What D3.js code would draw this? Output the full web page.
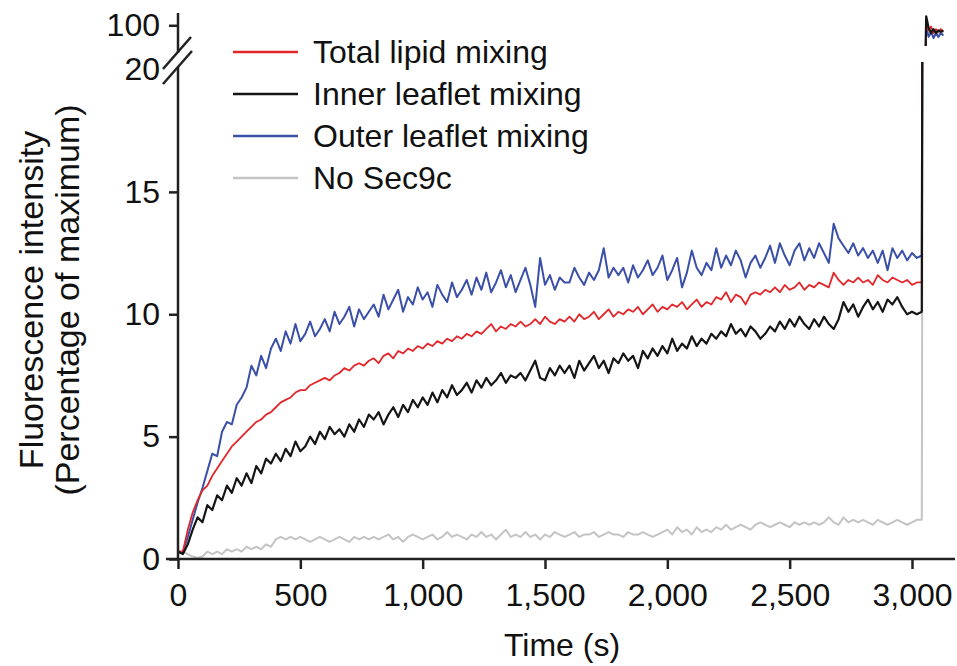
<!DOCTYPE html>
<html>
<head>
<meta charset="utf-8">
<script src="https://cdn.jsdelivr.net/npm/d3@7"></script>
<style>
  body { margin: 0; background: #fff; }
  text { font-family: "Liberation Sans", Arial, Helvetica, sans-serif; fill: #111; }
</style>
</head>
<body>
<svg id="chart"></svg>
<script>
// sample times (s), one reading every 20 s before detergent
const times = d3.range(0, 3041, 20);

const total = [
  0.3, 0.3, 1.2, 1.9, 2.4, 2.8, 3.0, 3.4, 3.7, 4.0,
  4.3, 4.6, 4.8, 5.0, 5.2, 5.4, 5.6, 5.7, 5.9, 6.0,
  6.2, 6.4, 6.5, 6.6, 6.8, 6.9, 6.9, 7.1, 7.2, 7.3,
  7.4, 7.3, 7.5, 7.6, 7.8, 7.7, 7.9, 8.0, 7.9, 8.1,
  8.2, 8.0, 8.3, 8.4, 8.2, 8.5, 8.4, 8.6, 8.5, 8.7,
  8.6, 8.8, 8.7, 8.9, 8.8, 9.0, 8.9, 9.1, 9.0, 9.2,
  9.1, 9.3, 9.2, 9.4, 9.6, 9.3, 9.5, 9.4, 9.6, 9.5,
  9.7, 9.5, 9.6, 9.8, 9.6, 9.9, 9.7, 9.6, 9.8, 9.7,
  9.9, 9.7, 10.0, 9.8, 9.9, 10.1, 9.8, 10.0, 10.2, 9.9,
  10.1, 10.0, 10.2, 10.1, 10.3, 10.0, 10.2, 10.4, 10.1, 10.3,
  10.2, 10.4, 10.3, 10.5, 10.2, 10.4, 10.6, 10.3, 10.5, 10.4,
  10.7, 10.6, 10.9, 10.5, 10.8, 10.7, 10.4, 10.8, 10.9, 10.8,
  11.0, 10.9, 11.1, 10.9, 11.2, 11.0, 11.1, 11.3, 11.0, 11.2,
  11.1, 11.3, 11.2, 11.1, 11.7, 11.4, 11.2, 11.4, 11.3, 11.5,
  11.3, 11.4, 11.2, 11.6, 11.4, 11.3, 11.5, 11.4, 11.3, 11.4,
  11.2, 11.3, 11.3
];

const inner = [
  0.3, 0.2, 0.6, 1.2, 1.7, 1.5, 2.2, 2.0, 2.6, 2.4,
  3.0, 2.7, 3.3, 3.0, 3.5, 3.1, 3.8, 3.5, 4.1, 3.9,
  4.3, 4.0, 4.5, 4.2, 4.8, 4.4, 4.6, 5.0, 4.7, 5.2,
  4.9, 5.4, 5.1, 5.3, 5.0, 5.5, 5.2, 5.7, 5.4, 5.9,
  5.7, 6.0, 5.5, 5.9, 6.2, 5.8, 6.3, 6.0, 6.5, 6.2,
  6.6, 6.3, 6.8, 6.4, 6.9, 6.6, 7.1, 6.7, 6.9, 7.2,
  6.8, 7.3, 7.0, 7.4, 7.1, 7.3, 7.6, 7.2, 7.5, 7.4,
  7.6, 7.3, 7.7, 8.1, 7.4, 7.3, 7.8, 7.5, 7.9, 7.6,
  7.9, 7.4, 8.1, 7.7, 8.0, 8.3, 7.8, 8.1, 7.6, 8.2,
  8.0, 8.4, 8.1, 8.3, 7.8, 8.5, 8.2, 8.6, 8.3, 8.7,
  8.4, 9.0, 8.5, 8.8, 8.6, 9.1, 8.7, 9.0, 8.8, 9.2,
  9.0, 9.3, 9.1, 9.6, 9.2, 9.4, 9.1, 9.5, 9.3, 9.0,
  9.2, 9.5, 9.3, 9.7, 9.4, 9.8, 9.5, 9.9, 9.6, 9.4,
  9.8, 9.5, 9.9, 9.6, 9.4, 9.8, 10.5, 10.1, 10.4, 9.9,
  10.3, 10.6, 10.2, 10.5, 10.1, 10.6, 10.4, 10.7, 10.3, 10.0,
  10.1, 10.0, 10.1
];

const outer = [
  0.3, 0.3, 0.9, 1.6, 2.3, 2.9, 3.6, 4.3, 4.2, 5.2,
  5.6, 5.5, 6.3, 6.6, 7.0, 7.9, 7.5, 8.3, 7.8, 8.6,
  9.0, 8.5, 9.3, 8.8, 9.6, 8.9, 9.2, 9.7, 9.1, 9.4,
  9.8, 9.3, 10.1, 9.6, 9.9, 10.3, 9.5, 10.2, 9.8, 10.1,
  10.4, 9.9, 10.8, 10.2, 10.6, 11.0, 10.1, 10.7, 10.4, 11.1,
  10.6, 10.9, 10.3, 11.2, 10.8, 10.5, 11.3, 10.7, 11.0, 11.4,
  10.8, 11.5, 11.0, 11.7, 10.9, 11.3, 11.8, 11.1, 11.6, 10.9,
  11.4, 11.9, 11.2, 10.3, 12.3, 11.2, 11.6, 11.0, 11.5, 11.3,
  11.3, 11.9, 11.5, 11.2, 11.7, 11.4, 11.8, 12.7, 11.5, 11.9,
  11.6, 11.9, 11.3, 12.0, 11.5, 11.8, 12.2, 11.6, 11.9, 12.4,
  11.4, 11.8, 12.3, 11.1, 11.7, 12.6, 11.9, 11.6, 12.1, 11.8,
  12.7, 11.9, 12.4, 12.0, 12.6, 12.2, 11.5, 12.1, 12.4, 11.9,
  12.3, 12.8, 12.1, 12.9, 12.4, 12.0, 12.6, 12.9, 12.2, 12.7,
  12.3, 12.9, 12.5, 12.1, 13.7, 13.1, 12.8, 12.5, 12.9, 12.4,
  12.7, 12.3, 12.6, 12.1, 12.6, 11.8, 12.7, 12.3, 12.6, 12.2,
  12.5, 12.3, 12.4
];

const noSec9c = [
  0.3, 0.3, 0.2, 0.1, 0.05, 0.1, 0.3, 0.2, 0.3, 0.2,
  0.4, 0.3, 0.4, 0.3, 0.5, 0.4, 0.5, 0.4, 0.6, 0.5,
  0.8, 0.9, 0.8, 0.9, 0.8, 0.9, 0.8, 0.7, 0.8, 0.9,
  0.8, 0.7, 0.8, 0.9, 0.8, 0.7, 0.9, 0.8, 0.9, 0.8,
  0.9, 0.8, 0.9, 1.0, 0.8, 0.9, 0.7, 0.9, 1.0, 0.9,
  0.8, 0.9, 1.0, 0.8, 0.9, 1.1, 0.9, 1.0, 0.9, 0.8,
  1.0, 0.9, 1.1, 0.9, 1.0, 0.8, 1.0, 1.2, 0.9, 1.0,
  0.9, 1.1, 0.9, 1.0, 0.8, 1.0, 0.9, 1.1, 1.0, 0.9,
  1.0, 1.1, 0.9, 1.0, 1.0, 1.1, 0.9, 1.0, 1.1, 1.0,
  1.0, 0.9, 1.1, 1.0, 1.0, 1.1, 1.0, 0.9, 1.0, 1.1,
  1.2, 1.0, 1.3, 1.1, 1.2, 1.0, 1.3, 1.1, 1.2, 1.1,
  1.3, 1.2, 1.4, 1.2, 1.3, 1.4, 1.3, 1.2, 1.4, 1.5,
  1.4, 1.3, 1.4, 1.5, 1.4, 1.3, 1.5, 1.4, 1.5, 1.4,
  1.5, 1.4, 1.5, 1.7, 1.5, 1.4, 1.7, 1.5, 1.6, 1.5,
  1.6, 1.5, 1.4, 1.6, 1.5, 1.4, 1.5, 1.6, 1.5, 1.4,
  1.5, 1.6, 1.6
];

// readings after detergent addition (upper, broken part of the axis)
const afterTimes = [3058, 3068, 3078, 3088, 3098, 3108, 3118, 3128];
const totalAfter = [100, 98, 99.5, 97, 98.5, 97.5, 98.5, 97.5];
const innerAfter = [103.5, 99, 97, 98.5, 97, 98, 97.5, 98];
const outerAfter = [99, 95.5, 97.5, 95, 97, 95.5, 97, 96];
const noSec9cAfter = [98, 97, 98, 97, 97.5, 97, 97.5, 97];

const seriesNames = ["Total lipid mixing", "Inner leaflet mixing", "Outer leaflet mixing", "No Sec9c"];
const seriesColors = ["#e3262a", "#151515", "#3a50a8", "#c4c4c4"];
const xTicks = [0, 500, 1000, 1500, 2000, 2500, 3000];
const yTicksLow = [0, 5, 10, 15];

const width = 957, height = 666;
const svg = d3.select("#chart").attr("width", width).attr("height", height);

const x = d3.scaleLinear().domain([0, 3000]).range([178, 912]);
const yLow = d3.scaleLinear().domain([0, 20]).range([559, 69.5]);
const yTop = d3.scaleLinear().domain([90, 104]).range([51, 15]);

const series = [
  { vals: noSec9c, after: noSec9cAfter, color: seriesColors[3], w: 2 },
  { vals: outer, after: outerAfter, color: seriesColors[2], w: 2 },
  { vals: total, after: totalAfter, color: seriesColors[0], w: 1.8 },
  { vals: inner, after: innerAfter, color: seriesColors[1], w: 2.2 }
];
series.forEach(s => {
  s.pts = times.map((t, i) => [t, s.vals[i]])
    .concat(afterTimes.map((t, i) => [t, s.after[i]]));
});

const defs = svg.append("defs");
defs.append("clipPath").attr("id", "clipLow")
  .append("rect").attr("x", 178).attr("y", 62).attr("width", 780).attr("height", 502);
defs.append("clipPath").attr("id", "clipTop")
  .append("rect").attr("x", 178).attr("y", 8).attr("width", 780).attr("height", 38);

const lineLow = d3.line().x(d => x(d[0])).y(d => yLow(d[1]));
const lineTop = d3.line().x(d => x(d[0])).y(d => yTop(d[1]));

svg.append("g").attr("clip-path", "url(#clipLow)")
  .selectAll("path").data(series).join("path")
  .attr("d", d => lineLow(d.pts))
  .attr("fill", "none").attr("stroke", d => d.color)
  .attr("stroke-width", d => d.w).attr("stroke-linejoin", "round");

svg.append("g").attr("clip-path", "url(#clipTop)")
  .selectAll("path").data(series).join("path")
  .attr("d", d => lineTop(d.pts))
  .attr("fill", "none").attr("stroke", d => d.color)
  .attr("stroke-width", d => d.w).attr("stroke-linejoin", "round");

// axes
const axisColor = "#222";
const fontSize = "32px";

const xAxis = svg.append("g").attr("transform", `translate(0,${yLow(0)})`)
  .call(d3.axisBottom(x).tickValues(xTicks).tickSize(10).tickPadding(14).tickFormat(d3.format(",")));
xAxis.select(".domain").remove();
xAxis.selectAll("line").attr("stroke", axisColor).attr("stroke-width", 2.5);
xAxis.selectAll("text").style("font-size", fontSize).attr("fill", "#111");
svg.append("line").attr("x1", 166).attr("x2", 955)
  .attr("y1", yLow(0)).attr("y2", yLow(0))
  .attr("stroke", axisColor).attr("stroke-width", 2.5);

const yAxis = svg.append("g").attr("transform", `translate(${x(0)},0)`)
  .call(d3.axisLeft(yLow).tickValues(yTicksLow).tickSize(9).tickPadding(9));
yAxis.select(".domain").remove();
yAxis.selectAll("line").attr("stroke", axisColor).attr("stroke-width", 2.5);
yAxis.selectAll("text").style("font-size", fontSize).attr("fill", "#111");

const y20 = svg.append("g").attr("transform", `translate(${x(0)},0)`)
  .call(d3.axisLeft(yLow).tickValues([20]).tickSize(0).tickPadding(18));
y20.select(".domain").remove();
y20.selectAll("text").style("font-size", fontSize).attr("fill", "#111");

const yAxisTop = svg.append("g").attr("transform", `translate(${x(0)},0)`)
  .call(d3.axisLeft(yTop).tickValues([100]).tickSize(9).tickPadding(9));
yAxisTop.select(".domain").remove();
yAxisTop.selectAll("line").attr("stroke", axisColor).attr("stroke-width", 2.5);
yAxisTop.selectAll("text").style("font-size", fontSize).attr("fill", "#111");

// broken y axis line with break marks
svg.append("line").attr("x1", x(0)).attr("x2", x(0)).attr("y1", 13).attr("y2", 53)
  .attr("stroke", axisColor).attr("stroke-width", 2.5);
svg.append("line").attr("x1", x(0)).attr("x2", x(0)).attr("y1", 67).attr("y2", yLow(0))
  .attr("stroke", axisColor).attr("stroke-width", 2.5);
[[191, 37, 163, 69], [192, 51, 163, 84]].forEach(b => {
  svg.append("line").attr("x1", b[0]).attr("y1", b[1]).attr("x2", b[2]).attr("y2", b[3])
    .attr("stroke", axisColor).attr("stroke-width", 2.5);
});

// axis titles
svg.append("text").attr("x", 562).attr("y", 656).attr("text-anchor", "middle")
  .style("font-size", fontSize).text("Time (s)");
svg.append("text").attr("transform", "translate(43,300) rotate(-90)").attr("text-anchor", "middle")
  .style("font-size", "34px").text("Fluorescence intensity");
svg.append("text").attr("transform", "translate(79,300) rotate(-90)").attr("text-anchor", "middle")
  .style("font-size", "34px").text("(Percentage of maximum)");

// legend
const legend = svg.append("g").attr("transform", "translate(233,52)");
const rows = legend.selectAll("g").data(seriesNames).join("g")
  .attr("transform", (d, i) => `translate(0,${i * 42})`);
rows.append("line").attr("x1", 0).attr("x2", 65).attr("y1", 0).attr("y2", 0)
  .attr("stroke", (d, i) => seriesColors[i]).attr("stroke-width", 2.5);
rows.append("text").attr("x", 80).attr("y", 11).style("font-size", fontSize).text(d => d);
</script>
</body>
</html>
